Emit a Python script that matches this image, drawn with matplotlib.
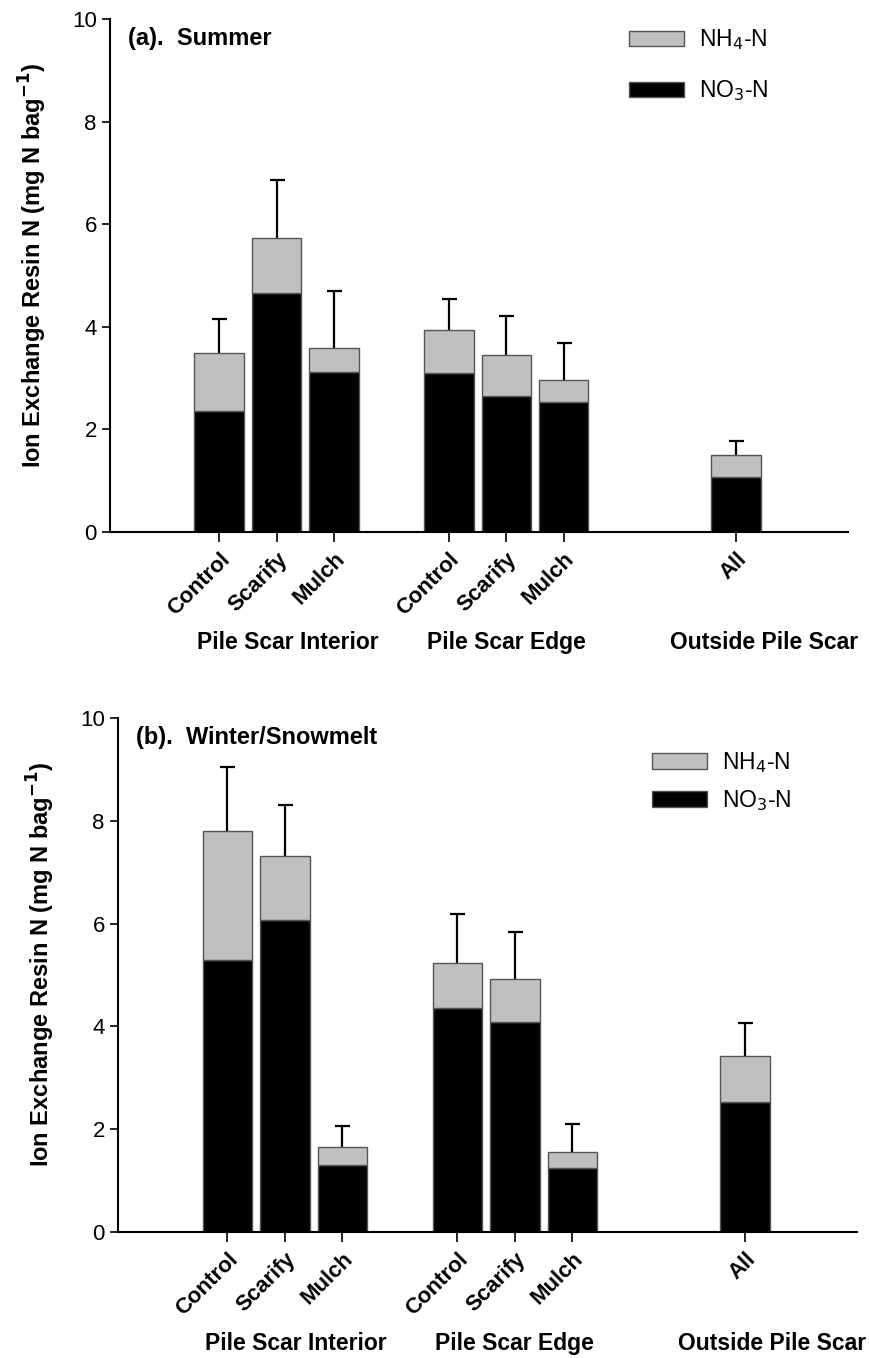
import numpy as np
import matplotlib.pyplot as plt
from matplotlib.patches import Patch
from matplotlib.transforms import blended_transform_factory

plt.rcParams['font.family'] = ['Liberation Sans', 'DejaVu Sans']

# Categories
tratamientos = ['Control', 'Scarify', 'Mulch', 'Control', 'Scarify', 'Mulch', 'All']
posiciones = [0, 1, 2, 4, 5, 6, 9]
grupos = ['Pile Scar Interior', 'Pile Scar Edge', 'Outside Pile Scar']
grupos_x = [1.2, 5.0, 9.48]

# (a) Summer: NO3-N, total (NO3 + NH4) and upper error
verano_no3 = [2.35, 4.66, 3.12, 3.10, 2.65, 2.53, 1.07]
verano_total = [3.48, 5.74, 3.58, 3.93, 3.46, 2.96, 1.50]
verano_err = [0.67, 1.12, 1.12, 0.62, 0.76, 0.72, 0.27]

# (b) Winter/Snowmelt
invierno_no3 = [5.30, 6.07, 1.30, 4.35, 4.08, 1.24, 2.52]
invierno_total = [7.81, 7.31, 1.65, 5.24, 4.92, 1.56, 3.43]
invierno_err = [1.24, 1.00, 0.42, 0.95, 0.92, 0.54, 0.64]

fig = plt.figure(figsize=(8.69, 13.58), dpi=100)
ax_a = fig.add_axes([110 / 869, 1 - 532 / 1358, 738 / 869, 513 / 1358])
ax_b = fig.add_axes([118 / 869, 1 - 1232 / 1358, 739 / 869, 514 / 1358])


def dibujar(ax, no3, total, err, titulo, leg_anchor, leg_spacing):
    no3 = np.array(no3)
    total = np.array(total)
    nh4 = total - no3
    ancho = 0.86
    ax.bar(posiciones, no3, width=ancho, color='black', edgecolor='#555555', linewidth=1, zorder=2)
    ax.bar(posiciones, nh4, bottom=no3, width=ancho, color='#c0c0c0', edgecolor='#555555',
           linewidth=1, zorder=2)
    eb = ax.errorbar(posiciones, total, yerr=[np.zeros_like(total), err], fmt='none', ecolor='black',
                     elinewidth=1.6, capsize=5.4, capthick=1.6, zorder=1)
    # solo la barra de error hacia arriba
    for cl in eb[1]:
        if np.allclose(cl.get_ydata(), total):
            cl.set_visible(False)

    ax.set_xlim(-1.9, 10.95)
    ax.set_ylim(0, 10)
    ax.set_yticks([0, 2, 4, 6, 8, 10])
    ax.tick_params(axis='y', labelsize=16, length=6, width=1.2, direction='out')
    ax.set_xticks(posiciones)
    ax.set_xticklabels(tratamientos, rotation=45, ha='right', va='top', rotation_mode='anchor',
                       fontsize=16, fontweight='bold')
    ax.tick_params(axis='x', length=7, width=1.2, direction='out', pad=5)
    for s in ['top', 'right']:
        ax.spines[s].set_visible(False)
    for s in ['left', 'bottom']:
        ax.spines[s].set_linewidth(1.5)

    ax.set_ylabel('Ion Exchange Resin N (mg N bag$^{\\mathbf{-1}}$)', fontsize=17, fontweight='bold')
    ax.yaxis.set_label_coords(-0.082, 0.52)
    ax.text(0.024, 0.962, titulo, transform=ax.transAxes, fontsize=17, fontweight='bold',
            ha='left', va='center')

    tr = blended_transform_factory(ax.transData, ax.transAxes)
    for g, gx in zip(grupos, grupos_x):
        ax.text(gx, -0.216, g, transform=tr, ha='center', va='center', fontsize=16.5, fontweight='bold')

    handles = [Patch(facecolor='#c0c0c0', edgecolor='#555555'),
               Patch(facecolor='black', edgecolor='#555555')]
    ax.legend(handles, ['NH$_4$-N', 'NO$_3$-N'], loc='upper left', bbox_to_anchor=leg_anchor,
              frameon=False, fontsize=16.5, handlelength=2.4, handleheight=0.65,
              labelspacing=leg_spacing, handletextpad=0.65, borderpad=0, borderaxespad=0)


dibujar(ax_a, verano_no3, verano_total, verano_err, '(a).  Summer', (0.703, 0.984), 1.14)
dibujar(ax_b, invierno_no3, invierno_total, invierno_err, '(b).  Winter/Snowmelt', (0.7226, 0.9377), 0.57)

fig.savefig('out.png', dpi=100)
